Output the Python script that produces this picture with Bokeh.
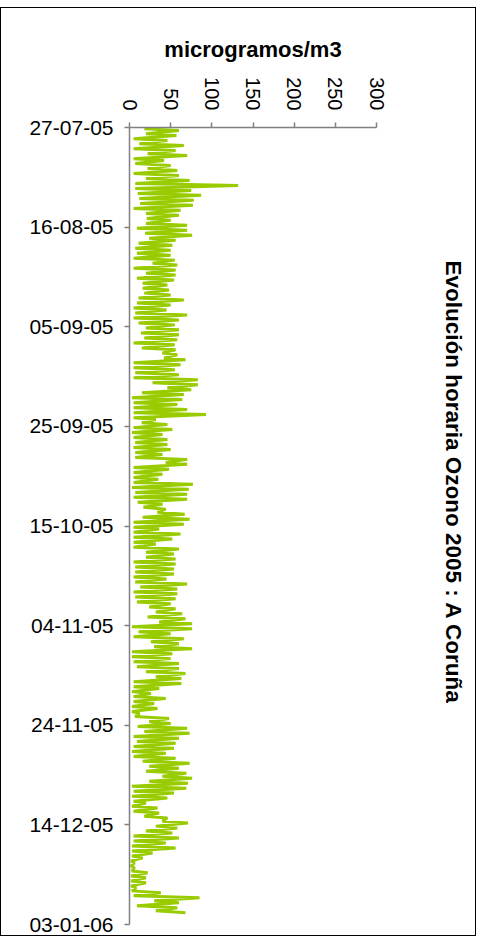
import math
import datetime as dt
from bokeh.plotting import figure
from bokeh.models import Range1d, FixedTicker, DatetimeTickFormatter, Title
from bokeh.embed import file_html
from bokeh.resources import INLINE

# ---- data ----
start_day = "27-07-05"
# daily minimum (night) and maximum (afternoon) hourly ozone, microgramos/m3
daily_min = [18, 20, 5, 12, 5, 22, 5, 7, 22, 5, 20, 7, 7, 10, 12, 13, 5, 20, 21, 20,
             9, 19, 24, 11, 7, 9, 5, 28, 5, 20, 9, 16, 16, 18, 11, 9, 5, 7, 5, 11,
             20, 14, 18, 5, 15, 40, 42, 5, 5, 7, 5, 28, 46, 15, 3, 5, 5, 5, 5, 15,
             5, 3, 5, 7, 5, 7, 7, 44, 5, 5, 5, 5, 3, 7, 5, 10, 17, 34, 16, 5,
             5, 5, 5, 5, 5, 20, 20, 5, 7, 7, 5, 7, 13, 5, 7, 9, 24, 32, 22, 36,
             3, 11, 5, 26, 30, 3, 3, 5, 9, 20, 32, 5, 5, 3, 5, 5, 3, 3, 7, 24,
             10, 18, 5, 9, 5, 3, 5, 16, 24, 20, 40, 24, 3, 5, 3, 5, 3, 5, 18, 40,
             32, 20, 5, 5, 3, 3, 3, 2, 2, 3, 2, 2, 2, 3, 5, 30, 9, 32]
daily_max = [60, 57, 46, 66, 56, 70, 42, 50, 58, 60, 73, 132, 75, 87, 78, 77, 62, 60, 50, 70,
             70, 76, 56, 52, 50, 50, 55, 58, 56, 56, 54, 46, 48, 50, 66, 50, 45, 70, 60, 55,
             60, 60, 58, 55, 56, 58, 68, 62, 55, 60, 83, 83, 75, 66, 64, 58, 70, 93, 32, 46,
             52, 40, 46, 46, 50, 40, 70, 70, 48, 40, 35, 77, 72, 70, 70, 40, 44, 67, 73, 66,
             36, 62, 52, 32, 60, 54, 56, 56, 54, 54, 45, 70, 58, 58, 56, 50, 56, 64, 68, 76,
             76, 50, 66, 60, 76, 52, 50, 60, 60, 68, 63, 63, 36, 26, 44, 30, 34, 12, 48, 50,
             70, 73, 60, 56, 54, 44, 56, 73, 60, 69, 76, 71, 69, 54, 46, 20, 34, 36, 46, 71,
             58, 52, 60, 44, 56, 28, 16, 6, 6, 22, 20, 20, 8, 38, 85, 60, 58, 68]
date_tick_labels = ["27-07-05", "16-08-05", "05-09-05", "25-09-05", "15-10-05",
                    "04-11-05", "24-11-05", "14-12-05", "03-01-06"]
value_ticks = [0, 50, 100, 150, 200, 250, 300]
title_text = "Evolución horaria Ozono 2005 : A Coruña"
axis_title = "microgramos/m3"

# ---- build hourly-like series (night low, afternoon high) ----
t0 = dt.datetime.strptime(start_day, "%d-%m-%y")
times, vals = [], []
for i, (lo, hi) in enumerate(zip(daily_min, daily_max)):
    d = t0 + dt.timedelta(days=i)
    times += [d + dt.timedelta(hours=6), d + dt.timedelta(hours=15)]
    vals += [lo, hi]

epoch = dt.datetime(1970, 1, 1)
def ms(d):
    return (d - epoch).total_seconds() * 1000.0

tick_dates = [dt.datetime.strptime(s, "%d-%m-%y") for s in date_tick_labels]
tick_ms = [ms(d) for d in tick_dates]

FONT = "Liberation Sans"
p = figure(width=476, height=929, y_axis_type="datetime", x_axis_location="above",
           x_range=Range1d(value_ticks[0], value_ticks[-1]),
           y_range=Range1d(tick_ms[-1], tick_ms[0]),
           output_backend="svg", toolbar_location=None,
           min_border_left=128, min_border_top=119, min_border_right=101,
           min_border_bottom=13)
p.styles = {"border": "1px solid #000000", "margin-top": "7px"}
p.xgrid.visible = False
p.ygrid.visible = False
p.outline_line_color = None
p.background_fill_color = "white"
p.border_fill_color = "white"

p.line(x=vals, y=times, line_color="#99CC00", line_width=3)

xa = p.xaxis[0]
xa.ticker = FixedTicker(ticks=value_ticks)
xa.major_label_orientation = -math.pi / 2
xa.axis_label = axis_title
xa.axis_label_text_font = FONT
xa.axis_label_text_font_style = "bold"
xa.axis_label_text_font_size = "22px"
xa.axis_label_text_color = "black"
xa.axis_label_standoff = 12
xa.major_label_text_font = FONT
xa.major_label_text_font_size = "20px"
xa.major_label_text_color = "black"
xa.major_label_standoff = 12
xa.major_tick_in = 0
xa.major_tick_out = 5
xa.minor_tick_line_color = None
xa.axis_line_color = "#808080"
xa.major_tick_line_color = "#808080"
xa.axis_line_width = 1.5
xa.major_tick_line_width = 1.5

ya = p.yaxis[0]
ya.ticker = FixedTicker(ticks=tick_ms)
fmt = "%d-%m-%y"
ya.formatter = DatetimeTickFormatter(microseconds=fmt, milliseconds=fmt, seconds=fmt,
                                     minsec=fmt, minutes=fmt, hourmin=fmt, hours=fmt,
                                     days=fmt, months=fmt, years=fmt)
ya.major_label_text_font = FONT
ya.major_label_text_font_size = "21px"
ya.major_label_text_color = "black"
ya.major_label_standoff = 11
ya.major_tick_in = 0
ya.major_tick_out = 5
ya.minor_tick_line_color = None
ya.axis_line_color = "#808080"
ya.major_tick_line_color = "#808080"
ya.axis_line_width = 1.5
ya.major_tick_line_width = 1.5

# chart title on the right, pushed outward by an empty spacer panel
spacer = Title(text=" ", text_font_size="10px", standoff=51)
p.add_layout(spacer, "right")
title = Title(text=title_text, align="left", offset=133, standoff=0,
              text_font=FONT, text_font_style="bold", text_font_size="22.5px",
              text_color="black")
p.add_layout(title, "right")

open("out.html", "w").write(file_html(p, INLINE))
